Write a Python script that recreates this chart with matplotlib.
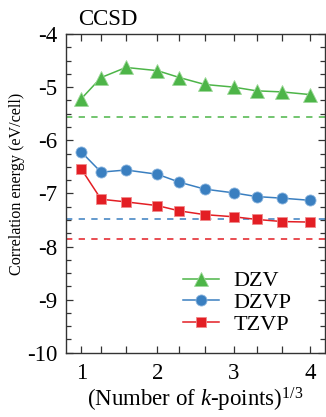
import numpy as np
import matplotlib
matplotlib.use("Agg")
import matplotlib.pyplot as plt
from matplotlib.ticker import MultipleLocator

plt.rcParams['font.family'] = ['Liberation Serif', 'DejaVu Serif']
plt.rcParams['mathtext.fontset'] = 'custom'
plt.rcParams['mathtext.rm'] = 'Liberation Serif'
plt.rcParams['mathtext.it'] = 'Liberation Serif:italic'

# k-point meshes (total number of k-points)
nk = [1, 2, 4, 8, 12, 18, 27, 36, 48, 64]
kx = np.cbrt(nk)

dzv = [-5.22, -4.82, -4.63, -4.69, -4.82, -4.95, -5.00, -5.07, -5.09, -5.14]
dzvp = [-6.22, -6.60, -6.56, -6.64, -6.79, -6.92, -6.99, -7.06, -7.09, -7.13]
tzvp = [-6.54, -7.11, -7.16, -7.23, -7.33, -7.40, -7.44, -7.49, -7.53, -7.54]

# extrapolated limits (dashed)
dzv_lim = -5.57
dzvp_lim = -7.49
tzvp_lim = -7.85

green = '#4db548'
blue = '#3a7fc0'
red = '#e31e24'

fig = plt.figure(figsize=(3.26, 4.17), dpi=100)
ax = fig.add_axes([0.2025, 0.154, 0.7945, 0.7645])

ax.axhline(dzv_lim, color=green, ls=(0, (3.5, 3.5)), lw=1.3, alpha=0.85)
ax.axhline(dzvp_lim, color=blue, ls=(0, (3.5, 3.5)), lw=1.3, alpha=0.85)
ax.axhline(tzvp_lim, color=red, ls=(0, (3.5, 3.5)), lw=1.3, alpha=0.85)

ax.plot(kx, dzv, '-^', color=green, lw=1.1, ms=9.5, mec='#9ed89a', mew=0.6, label='DZV')
ax.plot(kx, dzvp, '-o', color=blue, lw=1.1, ms=8, mec='#8fb8e0', mew=0.6, label='DZVP')
ax.plot(kx, tzvp, '-s', color=red, lw=1.1, ms=7.5, mec='#f08a8c', mew=0.6, label='TZVP')

ax.set_xlim(0.8, 4.2)
ax.set_ylim(-10, -4)
ax.set_xticks(kx)
ax.yaxis.set_major_locator(MultipleLocator(1))
ax.yaxis.set_minor_locator(MultipleLocator(0.25))
ax.set_yticklabels(['%d' % v for v in ax.get_yticks()])
ax.set_xticklabels([('%d' % round(v)) if abs(v - round(v)) < 1e-6 else '' for v in kx])

ax.tick_params(which='both', direction='in', top=True, right=True, labelsize=16.5, width=0.9, color='#333333')
ax.tick_params(which='major', length=5)
ax.tick_params(which='minor', length=3.5)
ax.tick_params(axis='x', pad=7)
ax.tick_params(axis='y', pad=6)
for s in ax.spines.values():
    s.set_linewidth(1.0)
    s.set_color('#333333')

ax.set_ylabel('Correlation energy (eV/cell)', fontsize=11.6)
ax.yaxis.set_label_coords(-0.158, 0.53)
ax.set_xlabel(r'(Number of $\mathit{k}$-points)$^{1/3}$', fontsize=16.5, labelpad=2)

fig.text(0.239, 0.94, 'CCSD', fontsize=16.5, va='baseline')

ax.legend(loc='upper left', frameon=False, fontsize=16, handlelength=1.6,
          labelspacing=0.05, handletextpad=0.68, borderpad=0, borderaxespad=0,
          bbox_to_anchor=(0.452, 0.257))

fig.savefig('out.png', dpi=100)
